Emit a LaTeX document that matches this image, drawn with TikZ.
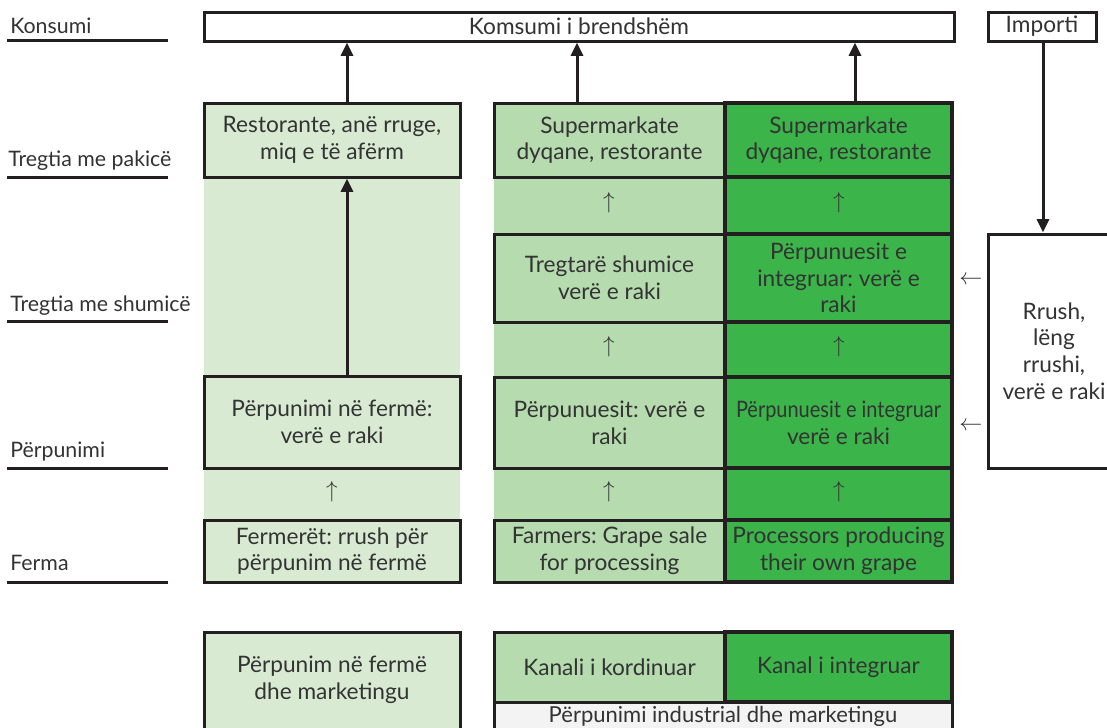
\documentclass[tikz,border=0pt]{standalone}
\usepackage{fontspec}
\setmainfont{Lato}
\usetikzlibrary{arrows.meta}
\definecolor{txt}{HTML}{333333}
\definecolor{ln}{HTML}{231F20}
\definecolor{gL}{HTML}{D9EAD3}
\definecolor{gM}{HTML}{B5DBAE}
\definecolor{gI}{HTML}{3BB44A}
\definecolor{gG}{HTML}{F3F3F3}
\newcommand\mkbox[7]{\node[#1, minimum width={(#5-#3)*0.75pt}, minimum height={(#6-#4)*0.75pt}] (#2) at ({(#3+#5)/2},{(#4+#6)/2}) {#7};}
\frenchspacing
\begin{document}
\begin{tikzpicture}[x=0.75pt,y=-0.75pt,
  every node/.style={text=txt, font=\fontsize{17}{20}\selectfont},
  box/.style={inner sep=0pt, draw=ln, line width=2.25pt, align=center},
  ibox/.style={box, line width=3pt, fill=gI},
  band/.style={inner sep=0pt},
  frame/.style={inner sep=0pt, draw=ln, line width=3pt},
  plain/.style={inner sep=0pt, align=center},
  uparr/.style={font=\fontsize{18}{18}\selectfont, inner sep=0pt},
  lbl/.style={anchor=base west, inner sep=0pt, font=\fontsize{16}{18}\selectfont},
  ul/.style={draw=ln, line width=2.25pt},
  bigarr/.style={draw=ln, line width=2.25pt, -{Triangle[width=9pt,length=10pt]}}]
\clip (0,0) rectangle (1107,728);
\fill[white] (0,0) rectangle (1107,728);

% level labels
\node[lbl] (lK) at (10,33) {Konsumi};
\node[lbl] (lR) at (8,166) {Tregtia me pakicë};
\node[lbl] (lW) at (10,311) {Tregtia me shumicë};
\node[lbl] (lP) at (10,457) {Përpunimi};
\node[lbl] (lF) at (10,570) {Ferma};
\foreach \yy in {40,177,321,468,582} \draw[ul] (7,\yy) -- (168,\yy);

% top boxes
\mkbox{box}{top}{204}{12}{954}{41}{Komsumi i brendshëm}
\mkbox{box}{imp}{988}{12}{1096}{41}{Importi}

% column backgrounds
\mkbox{band, fill=gL}{bandL}{204}{177}{460}{520}{}
\mkbox{band, fill=gM}{bandM}{494}{177}{725}{520}{}
\mkbox{band, fill=gI}{bandI}{725}{177}{952}{520}{}

% left column
\mkbox{box, fill=gL}{retL}{204}{103}{460}{177}{Restorante, anë rruge,\\miq e të afërm}
\mkbox{box, fill=gL}{prcL}{204}{376}{460}{468}{Përpunimi në fermë:\\verë e raki}
\mkbox{box, fill=gL}{farmL}{204}{520}{460}{582}{Fermerët: rrush për\\përpunim në fermë}
\node[uparr] (uL3) at (332,492) {$\uparrow$};

% middle column
\mkbox{box, fill=gM}{retM}{494}{103}{725}{177}{Supermarkate\\dyqane, restorante}
\mkbox{box, fill=gM}{whoM}{494}{234}{725}{322}{Tregtarë shumice\\verë e raki}
\mkbox{box, fill=gM}{prcM}{494}{377}{725}{468}{Përpunuesit: verë e\\raki}
\mkbox{box, fill=gM}{farmM}{494}{520}{725}{582}{Farmers: Grape sale\\for processing}
\node[uparr] (uM1) at (609,203) {$\uparrow$};
\node[uparr] (uM2) at (609,347) {$\uparrow$};
\node[uparr] (uM3) at (609,492) {$\uparrow$};

% integrated column
\mkbox{ibox}{retI}{725}{103}{952}{177}{Supermarkate\\dyqane, restorante}
\mkbox{ibox}{whoI}{725}{234}{952}{322}{Përpunuesit e\\integruar: verë e\\raki}
\mkbox{ibox}{prcI}{725}{377}{952}{468}{\scalebox{0.88}[1]{Përpunuesit e integruar}\\verë e raki}
\mkbox{ibox}{farmI}{725}{520}{952}{582}{Processors producing\\their own grape}
\node[uparr] (uI1) at (839,203) {$\uparrow$};
\node[uparr] (uI2) at (839,347) {$\uparrow$};
\node[uparr] (uI3) at (839,492) {$\uparrow$};
\mkbox{frame}{intcol}{725}{103}{952}{582}{}

% import source
\mkbox{box, fill=white}{src}{988}{234}{1120}{468}{Rrush,\\lëng\\rrushi,\\verë e raki}
\node[uparr] (la1) at (971,280) {$\leftarrow$};
\node[uparr] (la2) at (971,426) {$\leftarrow$};

% connectors
\coordinate (xa) at (347,0);
\coordinate (xb) at (577,0);
\coordinate (xc) at (855,0);
\coordinate (xd) at (1043,0);
\draw[bigarr] (xa |- retL.north) -- (xa |- top.south);
\draw[bigarr] (xa |- prcL.north) -- (xa |- retL.south);
\draw[bigarr] (xb |- retM.north) -- (xb |- top.south);
\draw[bigarr] (xc |- retI.north) -- (xc |- top.south);
\draw[bigarr] (xd |- imp.south) -- (xd |- src.north);

% legend
\mkbox{box, fill=gL}{legL}{204}{632}{460}{745}{}
\node[plain] (legLt) at (332,680) {Përpunim në fermë\\dhe marketingu};
\mkbox{box, fill=gG}{legG}{494}{702}{952}{745}{}
\node[plain, anchor=base, font=\fontsize{16.5}{18}\selectfont] (legGt) at (723,722) {Përpunimi industrial dhe marketingu};
\mkbox{box, fill=gM}{legM}{494}{632}{725}{702}{Kanali i kordinuar}
\mkbox{ibox}{legI}{725}{632}{952}{702}{Kanal i integruar}
\end{tikzpicture}
\end{document}
